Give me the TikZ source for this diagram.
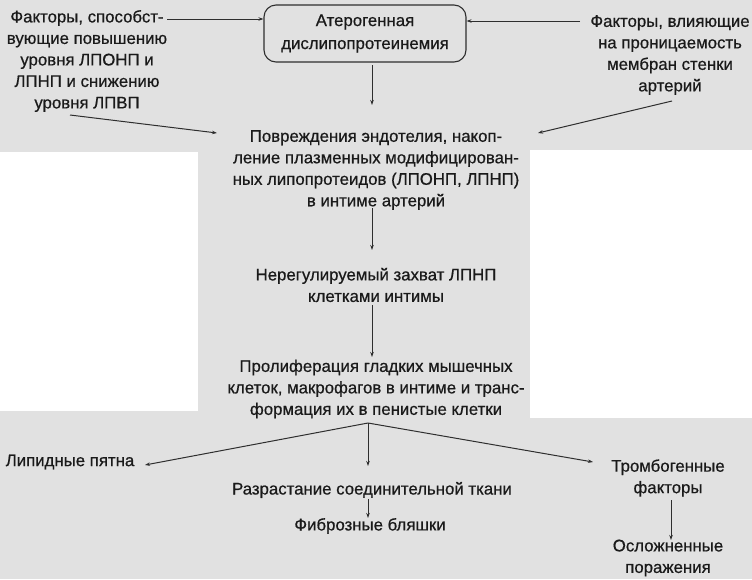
\documentclass[tikz,border=0pt]{standalone}
\usepackage{fontspec}
\setmainfont{Liberation Sans}[BoldFont=Liberation Sans, BoldFeatures={FakeBold=0.6}]
\usetikzlibrary{arrows.meta}
\definecolor{bggray}{HTML}{E1E1E1}
\definecolor{ink}{HTML}{1A1A1A}
\definecolor{lineink}{HTML}{2E2E2E}
\tikzset{
  txt/.style={align=center, text=ink, font=\fontsize{16.8}{21.5}\selectfont\bfseries, inner sep=0pt},
  conn/.style={draw=lineink, line width=1pt, -{Stealth[length=5pt,width=3.5pt]}},
  roundbox/.style={draw=lineink, line width=1.1pt, rounded corners=12pt, minimum width=202pt, minimum height=57pt, align=center, text=ink, font=\fontsize{16.8}{23}\selectfont\bfseries}
}
\begin{document}
\begin{tikzpicture}[x=1pt,y=-1pt]
\useasboundingbox (0,0) rectangle (752,579);
\fill[bggray] (0,0) rectangle (752,579);
\fill[white] (0,152) rectangle (198,411);
\fill[white] (530,150) rectangle (752,418);

\node[txt] (f1) at (87,61) {Факторы, способст-\\вующие повышению\\уровня ЛПОНП и\\ЛПНП и снижению\\уровня ЛПВП};
\node[roundbox] (ath) at (365,33.5) {Атерогенная\\дислипопротеинемия};
\node[txt] (f2) at (670,55) {Факторы, влияющие\\на проницаемость\\мембран стенки\\артерий};

\node[txt] (dmg) at (376,170) {Повреждения эндотелия, накоп-\\ление плазменных модифицирован-\\ных липопротеидов (ЛПОНП, ЛПНП)\\в интиме артерий};
\node[txt] (upt) at (376,285) {Нерегулируемый захват ЛПНП\\клетками интимы};
\node[txt] (prol) at (376,389) {Пролиферация гладких мышечных\\клеток, макрофагов в интиме и транс-\\формация их в пенистые клетки};

\node[txt] (lip) at (70,462) {Липидные пятна};
\node[txt] (conn) at (372,490) {Разрастание соединительной ткани};
\node[txt] (fib) at (370,526) {Фиброзные бляшки};
\node[txt] (thr) at (668,478) {Тромбогенные\\факторы};
\node[txt] (cmp) at (668,558) {Осложненные\\поражения};

\coordinate (f1out) at (167,19);
\coordinate (f2out) at (580,21);
\coordinate (f1low) at (70,115);
\coordinate (f2low) at (672,101);
\coordinate (dmgL) at (217,133);
\coordinate (dmgR) at (538,133);
\coordinate (br) at (368,423);

\draw[conn] (f1out) -- (ath.west |- f1out);
\draw[conn] (f2out) -- (ath.east |- f2out);
\draw[conn] (372,65) -- (372,105);
\draw[conn] (f1low) -- (dmgL);
\draw[conn] (f2low) -- (dmgR);
\draw[conn] (372,208) -- (372,250);
\draw[conn] (372,305) -- (372,357);
\draw[conn] (br) -- (145,465);
\draw[conn] (br) -- (368,466);
\draw[conn] (br) -- (593,462);
\draw[conn] (368,499) -- (368,518);
\draw[conn] (671,500) -- (671,540);
\end{tikzpicture}
\end{document}
